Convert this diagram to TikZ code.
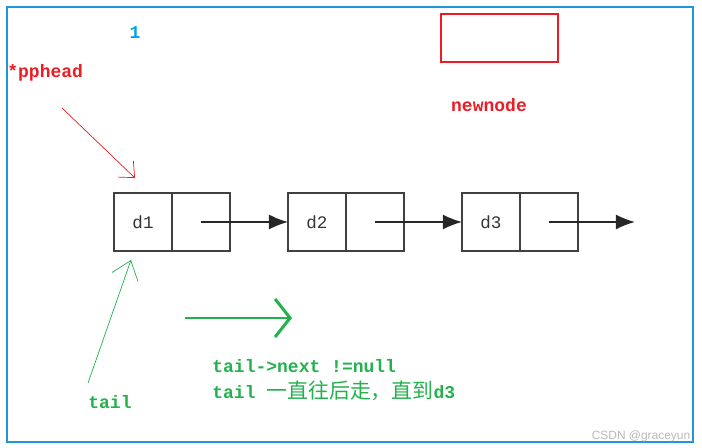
\documentclass[tikz,border=0pt]{standalone}
\usepackage{fontspec}
\setmonofont{Liberation Mono}
\newfontfamily\cjk{Noto Sans CJK SC}
\newfontfamily\wmfont{Liberation Sans}
\usepackage{tikz}
\usetikzlibrary{positioning,arrows.meta}
\definecolor{pred}{RGB}{237,28,36}
\definecolor{pgreen}{RGB}{34,177,76}
\definecolor{pblue}{RGB}{0,162,232}
\definecolor{pframe}{RGB}{30,150,215}

\begin{document}
\begin{tikzpicture}[x=0.02cm, y=-0.02cm, every node/.style={font=\fontsize{10.25}{14.8}\selectfont\ttfamily\bfseries, inner sep=0pt},
	cell/.style={draw=black!75, line width=0.8pt, minimum size=1.16cm, inner sep=0pt, outer sep=0pt, font=\fontsize{10}{12}\selectfont\ttfamily, text=black!80},
	link/.style={line width=0.8pt, black!85, -{Latex[length=3.8mm,width=3mm]}},
	barb/.style={-{Straight Barb[length=2.5mm,width=4.5mm]}}]
	\useasboundingbox (0,0) rectangle (702,448);
	\draw[pframe, line width=0.85pt] (7,7) rectangle (693,442);
	\node[pblue] (one) at (135,33) {1};
	\node[pred, anchor=west] (pphead) at (7,73) {*pphead};
	\node[draw=pred, line width=0.6pt, minimum width=2.34cm, minimum height=0.96cm] (nn) at (499.5,38) {};
	\node[pred] (newnode) at (489,105) {newnode};
	\node[cell] (d1) at (143,222) {d1}; \node[cell, right=0pt of d1] (n1) {};
	\node[cell, right=1.16cm of n1] (d2) {d2}; \node[cell, right=0pt of d2] (n2) {};
	\node[cell, right=1.16cm of n2] (d3) {d3}; \node[cell, right=0pt of d3] (n3) {};
	\coordinate[right=1.14cm of n3] (nil);
	\draw[link] (n1.center) -- (d2.west);
	\draw[link] (n2.center) -- (d3.west);
	\draw[link] (n3.center) -- (nil);
	\coordinate (hs) at (62,108); \coordinate (ht) at (135,178);
	\draw[pred, line width=0.4pt, barb] (hs) -- (ht);
	\node[pgreen, anchor=west] (tail) at (88,402) {tail};
	\coordinate (ts) at (88,383); \coordinate (tt) at (131,260);
	\draw[pgreen, line width=0.4pt, -{Straight Barb[length=3.5mm,width=5.5mm]}] (ts) -- (tt);
	\coordinate (gs) at (185,318); \coordinate (ge) at (292,318);
	\draw[pgreen, line width=1.7pt, -{Straight Barb[length=3mm,width=7.6mm]}] (gs) -- (ge);
	\node[pgreen, anchor=west, align=left] (cond) at (212,380) {tail->next !=null\\tail {\cjk\mdseries\fontsize{11.9}{14.8}\selectfont 一直往后走，直到}d3};
	\node[gray!55, font=\wmfont\fontsize{6.8}{8}\selectfont] (mark) at (641,436) {CSDN @graceyun};
\end{tikzpicture}
\end{document}
